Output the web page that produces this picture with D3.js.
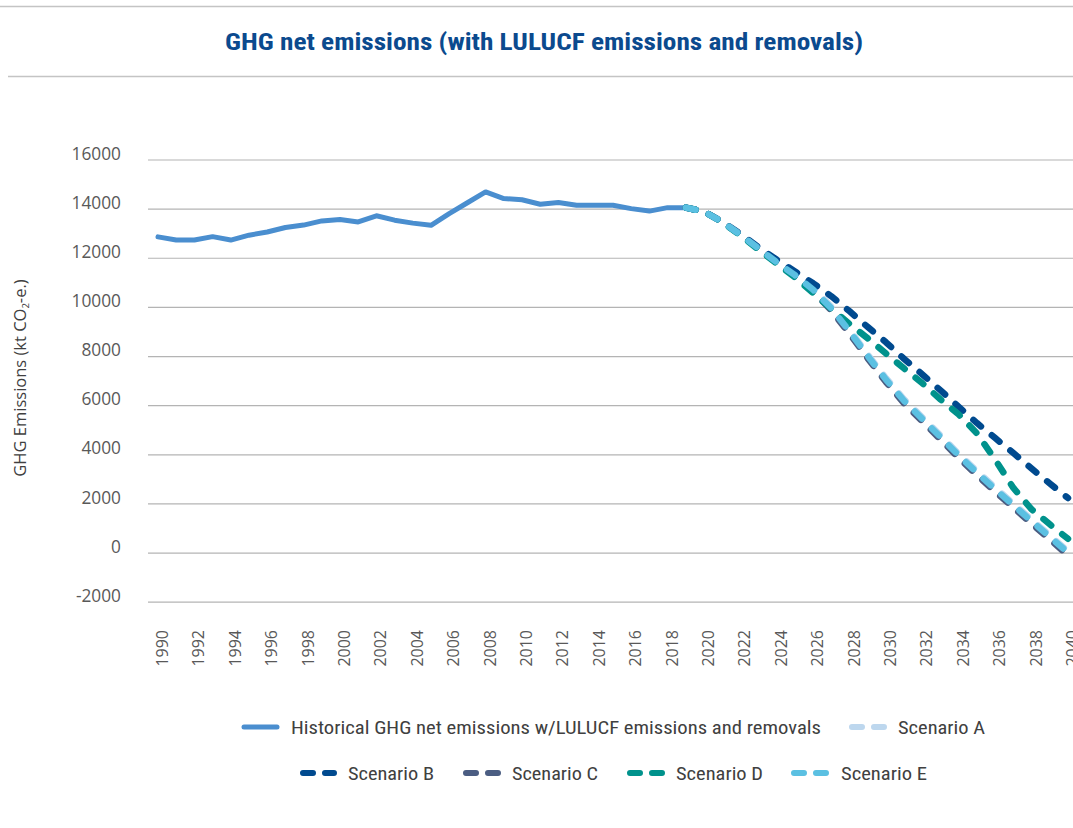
<!DOCTYPE html>
<html><head><meta charset="utf-8">
<script src="https://cdn.jsdelivr.net/npm/d3@7"></script>
<style>body{margin:0;background:#fff}svg{display:block}</style>
</head><body>
<svg id="chart" width="1073" height="828"></svg>
<script>
// ---------- data ----------
const histYears = [1990,1991,1992,1993,1994,1995,1996,1997,1998,1999,2000,2001,2002,2003,2004,2005,2006,2007,2008,2009,2010,2011,2012,2013,2014,2015,2016,2017,2018,2019];
const histValues = [12850,12720,12720,12860,12720,12920,13050,13230,13330,13500,13560,13460,13710,13530,13410,13320,13800,14240,14680,14410,14360,14180,14250,14140,14140,14140,14000,13900,14040,14040];
const scenYears = [2019,2020,2021,2022,2023,2024,2025,2026,2027,2028,2029,2030,2031,2032,2033,2034,2035,2036,2037,2038,2039,2040];
const scenarioA = [14040,13880,13460,12940,12380,11830,11320,10760,10000,9060,8060,7100,6230,5500,4760,4010,3310,2640,1990,1340,700,50];
const scenarioB = [14040,13880,13470,12970,12430,11920,11440,10960,10430,9820,9180,8560,7880,7250,6600,5930,5270,4660,4050,3420,2810,2220];
const scenarioC = [14040,13880,13460,12940,12370,11790,11250,10620,9850,8900,7900,6940,6070,5340,4600,3850,3150,2480,1830,1180,540,-120];
const scenarioD = [14040,13880,13450,12910,12330,11760,11200,10560,9920,9300,8720,8100,7490,6890,6230,5620,4850,3780,2630,1760,1150,560];
const scenarioE = [14040,13880,13460,12940,12380,11815,11290,10700,9940,9000,8000,7040,6170,5440,4700,3950,3250,2580,1930,1280,640,0];
const yTicks = [-2000,0,2000,4000,6000,8000,10000,12000,14000,16000];
const yTickLabels = ["-2000","0","2000","4000","6000","8000","10000","12000","14000","16000"];
const xTickLabels = ["1990","1992","1994","1996","1998","2000","2002","2004","2006","2008","2010","2012","2014","2016","2018","2020","2022","2024","2026","2028","2030","2032","2034","2036","2038","2040"];
const seriesNames = ["Historical GHG net emissions w/LULUCF emissions and removals","Scenario A","Scenario B","Scenario C","Scenario D","Scenario E"];
const titleText = "GHG net emissions (with LULUCF emissions and removals)";

// ---------- styles / layout ----------
const colors = {hist:"#4a8ecf", A:"#bdd7ee", B:"#004a8f", C:"#4b5d82", D:"#00928c", E:"#5bc0e2"};
const W = 1073, H = 828;
const svg = d3.select("#chart");
const condensed = "'Liberation Sans Narrow','Roboto Condensed','Roboto','Open Sans',sans-serif";
const openSans = "'Open Sans','Noto Sans',sans-serif";

const allYears = histYears.concat(scenYears.slice(1));
const x = d3.scalePoint().domain(allYears).range([158, 1068]);
const y = d3.scaleLinear().domain([-2000, 16000]).range([601.7, 159.5]);

// header rules
svg.append("line").attr("x1",0).attr("x2",W).attr("y1",6.5).attr("y2",6.5).attr("stroke","#c4c4c4").attr("stroke-width",1.5);
svg.append("line").attr("x1",8).attr("x2",W).attr("y1",76.5).attr("y2",76.5).attr("stroke","#c4c4c4").attr("stroke-width",1.5);

// title
svg.append("text").attr("x",544).attr("y",50).attr("text-anchor","middle")
  .attr("font-family",condensed).attr("font-weight","bold").attr("font-size",24)
  .attr("fill","#0b4a8e").attr("textLength",638).attr("lengthAdjust","spacingAndGlyphs")
  .text(titleText);

// gridlines
const gridX = 148;
const grid = svg.append("g").attr("transform",`translate(${gridX},0)`)
  .call(d3.axisLeft(y).tickValues(yTicks).tickSize(-(W - gridX)).tickFormat(""));
grid.select(".domain").remove();
grid.selectAll(".tick line").attr("stroke","#b4b4b4").attr("stroke-width",1.2);

// y labels
const yLab = svg.append("g").attr("transform",`translate(${gridX},0)`)
  .call(d3.axisLeft(y).tickValues(yTicks).tickSize(0).tickPadding(27)
    .tickFormat((d,i) => yTickLabels[i]));
yLab.select(".domain").remove();
yLab.selectAll("text").attr("font-family",openSans).attr("font-size",17.3).attr("fill","#595959").attr("dy","-0.02em");

// x labels
const axisY = 620;
const labelYears = xTickLabels.map(Number);
const xLab = svg.append("g").attr("transform",`translate(0,${axisY})`)
  .call(d3.axisBottom(x).tickValues(labelYears).tickSize(0).tickFormat((d,i) => xTickLabels[i]));
xLab.select(".domain").remove();
xLab.selectAll("text").attr("transform","rotate(-90)").attr("text-anchor","end")
  .attr("x", axisY - 630).attr("y", 9.5).attr("dy", 0)
  .attr("font-family",openSans).attr("font-size",16).attr("fill","#595959");

// y title
svg.append("text").attr("transform","translate(26,378) rotate(-90)").attr("text-anchor","middle")
  .attr("font-family",openSans).attr("font-size",16.5).attr("fill","#404040")
  .call(t => {
    t.append("tspan").text("GHG Emissions (kt CO");
    t.append("tspan").attr("font-size",9.5).attr("dy",3).text("2");
    t.append("tspan").attr("dy",-3).text("-e.)");
  });

// lines
const line = d3.line().x(d => x(d[0])).y(d => y(d[1]));
svg.append("path").datum(histYears.map((yr,i)=>[yr,histValues[i]]))
  .attr("d",line).attr("fill","none").attr("stroke",colors.hist).attr("stroke-width",5)
  .attr("stroke-linecap","round").attr("stroke-linejoin","round");

const scen = [["A",scenarioA],["B",scenarioB],["C",scenarioC],["D",scenarioD],["E",scenarioE]];
scen.forEach(([k,vals]) => {
  svg.append("path").datum(scenYears.map((yr,i)=>[yr,vals[i]]))
    .attr("d",line).attr("fill","none").attr("stroke",colors[k]).attr("stroke-width",6.5)
    .attr("stroke-dasharray","10,14").attr("stroke-linecap","round").attr("stroke-linejoin","round");
});

// legend
const legendLayout = [
  {sx:241, ex:280, tx:291, ty:727, tw:530},
  {sx:849, ex:887, tx:898, ty:727, tw:87},
  {sx:300, ex:337, tx:348, ty:773, tw:86},
  {sx:463, ex:501, tx:512, ty:773, tw:86},
  {sx:627, ex:665, tx:676, ty:773, tw:87},
  {sx:791, ex:830, tx:841, ty:773, tw:86}
];
const legendColors = [colors.hist, colors.A, colors.B, colors.C, colors.D, colors.E];
const lg = svg.append("g");
seriesNames.forEach((name,i) => {
  const L = legendLayout[i];
  const ln = lg.append("line").attr("x1",L.sx+3).attr("x2",L.ex-3).attr("y1",L.ty).attr("y2",L.ty)
    .attr("stroke",legendColors[i]).attr("stroke-width", i===0 ? 5 : 6)
    .attr("stroke-linecap","round");
  if (i>0) ln.attr("stroke-dasharray","10,12");
  lg.append("text").attr("x",L.tx).attr("y",L.ty).attr("dy","0.36em")
    .attr("font-family",condensed).attr("font-size",19).attr("fill","#404040")
    .attr("textLength",L.tw).attr("lengthAdjust","spacingAndGlyphs").text(name);
});
</script>
</body></html>
